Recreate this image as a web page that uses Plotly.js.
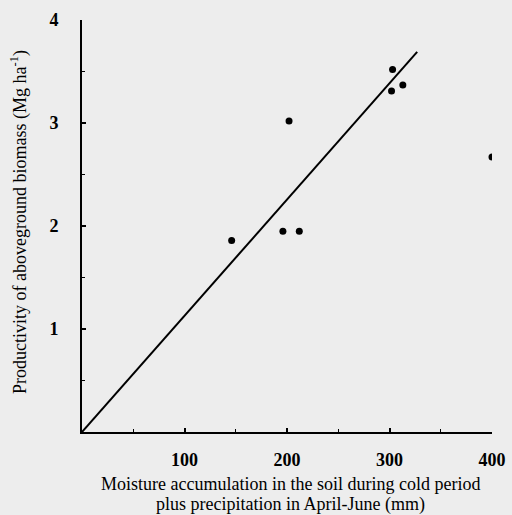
<!DOCTYPE html>
<html>
<head>
<meta charset="utf-8">
<script src="https://cdn.plot.ly/plotly-3.0.1.min.js"></script>
<style>html,body{margin:0;padding:0;background:#ededed;}</style>
</head>
<body>
<div id="chart" style="width:512px;height:515px;"></div>
<script>
// Observed data points
const moisture = [146, 196, 202, 212, 302, 303, 313, 400];
const biomass  = [1.86, 1.95, 3.02, 1.95, 3.31, 3.52, 3.37, 2.67];
// Regression line end points
const fitX = [0, 327];
const fitY = [0, 3.69];
const xTicks = [100, 200, 300, 400];
const yTicks = [1, 2, 3, 4];
const xTitle1 = 'Moisture accumulation in the soil during cold period';
const xTitle2 = 'plus precipitation in April-June (mm)';
const yTitle = 'Productivity of aboveground biomass (Mg ha<sup>-1</sup>)';

const serif = "Liberation Serif, Times New Roman, serif";

Plotly.newPlot('chart', [
  {x: fitX, y: fitY, mode: 'lines', line: {color: '#000', width: 2}, hoverinfo: 'skip'},
  {x: moisture, y: biomass, mode: 'markers', marker: {color: '#000', size: 7}}
], {
  width: 512, height: 515,
  margin: {l: 82, r: 20, t: 20, b: 83},
  paper_bgcolor: '#ededed', plot_bgcolor: '#ededed',
  showlegend: false,
  xaxis: {
    range: [0, 400], showgrid: false, zeroline: false,
    showline: true, linecolor: '#000', linewidth: 2,
    tickvals: xTicks, ticks: 'inside', ticklen: 4, tickwidth: 2, tickcolor: '#000',
    minor: {dtick: 50, ticks: 'inside', ticklen: 3, tickwidth: 1, tickcolor: '#000'},
    ticklabelstandoff: 10,
    tickfont: {family: serif, size: 18, color: '#000', weight: 'bold'}
  },
  yaxis: {
    range: [0, 4], showgrid: false, zeroline: false,
    showline: true, linecolor: '#000', linewidth: 2,
    tickvals: yTicks, ticks: 'inside', ticklen: 4, tickwidth: 2, tickcolor: '#000',
    minor: {dtick: 0.5, ticks: 'inside', ticklen: 3, tickwidth: 1, tickcolor: '#000'},
    ticklabelstandoff: 18,
    tickfont: {family: serif, size: 18, color: '#000', weight: 'bold'}
  },
  annotations: [
    {text: xTitle1, xref: 'paper', yref: 'paper', x: 0.5, y: 0, xanchor: 'center', yanchor: 'middle',
     xshift: 3, yshift: -51.5, showarrow: false,
     font: {family: serif, size: 18, color: '#000'}},
    {text: xTitle2, xref: 'paper', yref: 'paper', x: 0.5, y: 0, xanchor: 'center', yanchor: 'middle',
     xshift: 3, yshift: -72, showarrow: false,
     font: {family: serif, size: 18, color: '#000'}},
    {text: yTitle, xref: 'paper', yref: 'paper', x: 0, y: 0.5, xanchor: 'center', yanchor: 'middle',
     xshift: -63, yshift: 4, textangle: -90, showarrow: false,
     font: {family: serif, size: 18, color: '#000'}}
  ]
}, {displayModeBar: false, staticPlot: true});
</script>
</body>
</html>
